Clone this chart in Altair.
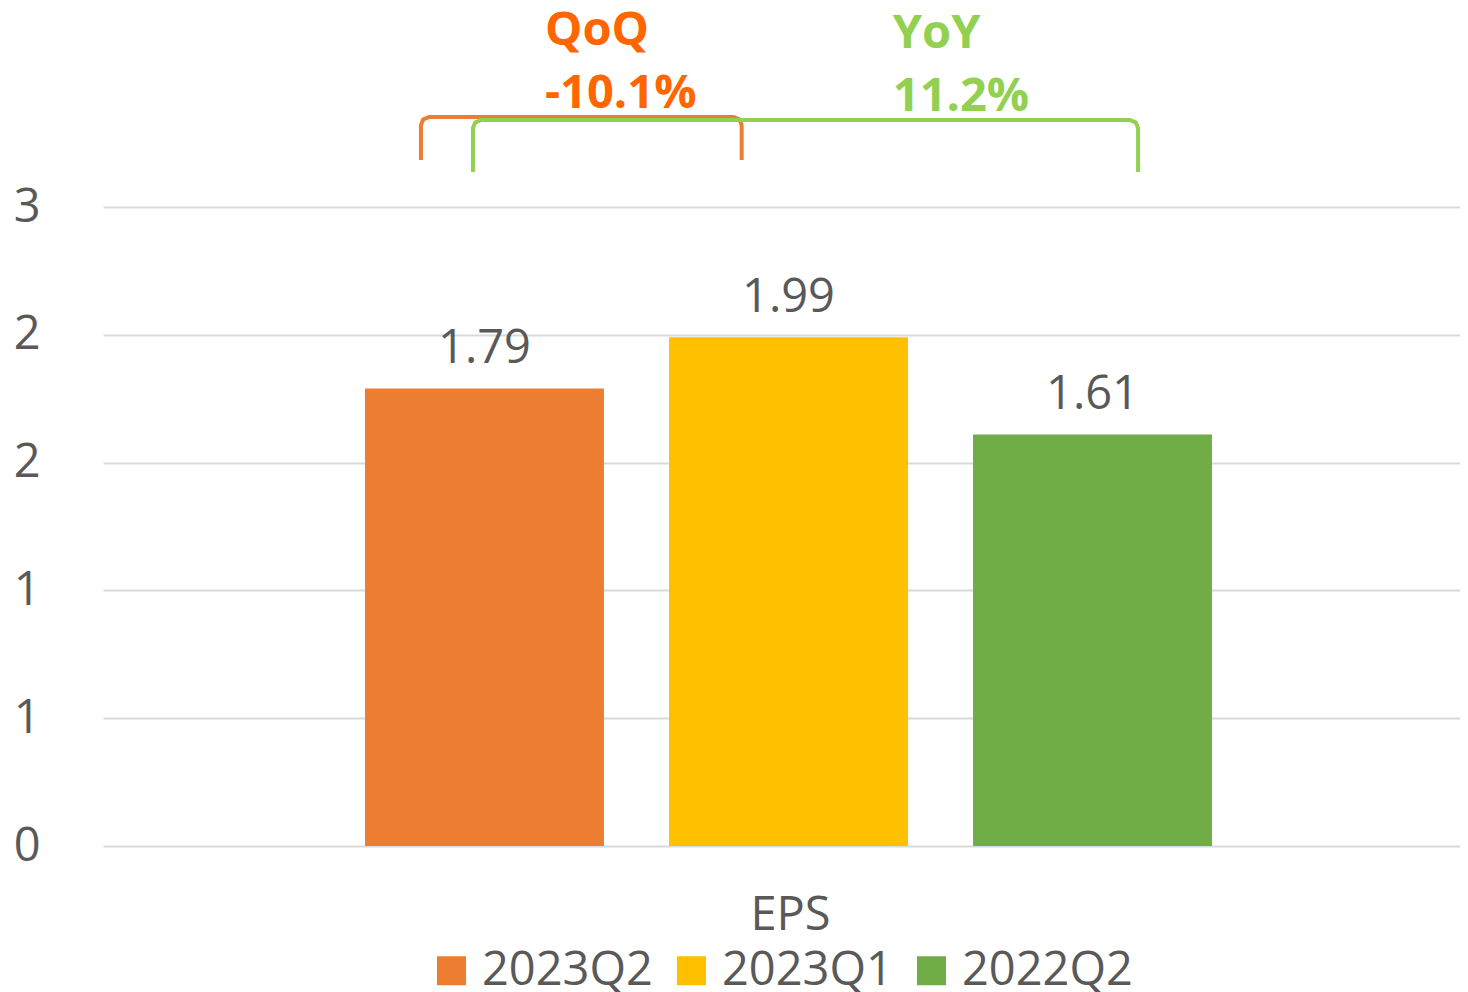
import altair as alt
import pandas as pd

# ---- data ----
categories = ["2023Q2", "2023Q1", "2022Q2"]
eps_values = [1.79, 1.99, 1.61]
bar_colors = ["#ED7D31", "#FFC000", "#70AD47"]
y_ticks = [0, 0.5, 1, 1.5, 2, 2.5]

# annotation texts (label, change)
ann_titles = ["QoQ", "YoY"]
ann_changes = ["-10.1%", "11.2%"]
ann_colors = ["#FF6600", "#92D050"]
bracket_colors = ["#ED7D31", "#92D050"]

# ---- layout helpers (positions in data units) ----
PLOT_W = 1357
X_DOMAIN = [-1.2549, -1.2549 + PLOT_W / 304.0]
Y_DOMAIN = [0, 3.2786]
HALF_BAR = 0.393
ann_x = [0.199, 1.343]
ann_title_y = [3.134, 3.122]
ann_change_y = [2.887, 2.875]
# bracket: left x, right x, top y, end y
br_left = [-0.209, -0.038]
br_right = [0.846, 2.150]
br_top = [2.852, 2.840]
br_end = [2.684, 2.637]

FONT = "Open Sans"
TXT = "#595959"
FS = 47

bars_df = pd.DataFrame({
    "cat": categories,
    "v": eps_values,
    "idx": list(range(len(categories))),
})
bars_df["x0"] = bars_df["idx"] - HALF_BAR
bars_df["x1"] = bars_df["idx"] + HALF_BAR


def xenc(field):
    return alt.X(field, type="quantitative",
                 scale=alt.Scale(domain=X_DOMAIN, nice=False, zero=False),
                 axis=alt.Axis(title="EPS", labels=False, ticks=False, domain=False, grid=False,
                               titleFont=FONT, titleFontSize=FS, titleFontWeight="normal",
                               titleColor=TXT, titlePadding=46, titleX=687))


def yenc(field):
    return alt.Y(field, type="quantitative",
                 scale=alt.Scale(domain=Y_DOMAIN, nice=False, zero=True),
                 axis=alt.Axis(title=None, values=y_ticks, labelExpr="'' + round(datum.value)",
                               domain=False, ticks=False, grid=True, gridColor="#D9D9D9",
                               gridWidth=2, labelFont=FONT, labelFontSize=FS, labelColor=TXT,
                               labelPadding=63, labelAlign="right"))


base = alt.Chart(bars_df)

bars = base.mark_bar().encode(
    x=xenc("x0"), x2="x1:Q",
    y=yenc("v"), y2=alt.datum(0),
    color=alt.Color("cat:N", sort=categories,
                    scale=alt.Scale(domain=categories, range=bar_colors),
                    legend=alt.Legend(title=None, orient="none", direction="horizontal",
                                      legendX=325, legendY=939, padding=0,
                                      symbolType="square", symbolSize=841, symbolStrokeWidth=0,
                                      labelFont=FONT, labelFontSize=FS, labelColor=TXT,
                                      labelOffset=7, columnPadding=15, labelLimit=0)),
)

labels = base.mark_text(font=FONT, fontSize=FS, color=TXT, baseline="alphabetic",
                        align="center", dy=-25).encode(
    x=xenc("idx"), y=yenc("v"), text=alt.Text("v:Q", format=".2f"))

layers = [bars, labels]

# brackets
for i in range(2):
    rx, ry = 0.026, 0.031
    l, r, t, e = br_left[i], br_right[i], br_top[i], br_end[i]
    pts_x = [l, l, l + 0.29 * rx, l + rx, r - rx, r - 0.29 * rx, r, r]
    pts_y = [e, t - ry, t - 0.29 * ry, t, t, t - 0.29 * ry, t - ry, e]
    bdf = pd.DataFrame({"bx": pts_x, "by": pts_y, "o": list(range(len(pts_x)))})
    layers.append(alt.Chart(bdf).mark_line(color=bracket_colors[i], strokeWidth=4,
                                           strokeCap="butt", strokeJoin="round").encode(
        x=xenc("bx"), y=yenc("by"), order="o:Q"))

# annotation texts
for i in range(2):
    tdf = pd.DataFrame({"t": [ann_titles[i], ann_changes[i]],
                        "tx": [ann_x[i], ann_x[i]],
                        "ty": [ann_title_y[i], ann_change_y[i]]})
    layers.append(alt.Chart(tdf).mark_text(font=FONT, fontSize=FS, fontWeight="bold",
                                           color=ann_colors[i], align="left",
                                           baseline="alphabetic").encode(
        x=xenc("tx"), y=yenc("ty"), text="t:N"))

chart = alt.layer(*layers).properties(
    width=PLOT_W, height=838,
    autosize=alt.AutoSizeParams(type="none"),
    padding={"left": 95, "top": 0, "right": 0, "bottom": 146},
    background="white",
).configure_view(stroke=None)

chart.save("out.html", embed_options={"renderer": "svg", "actions": False})
